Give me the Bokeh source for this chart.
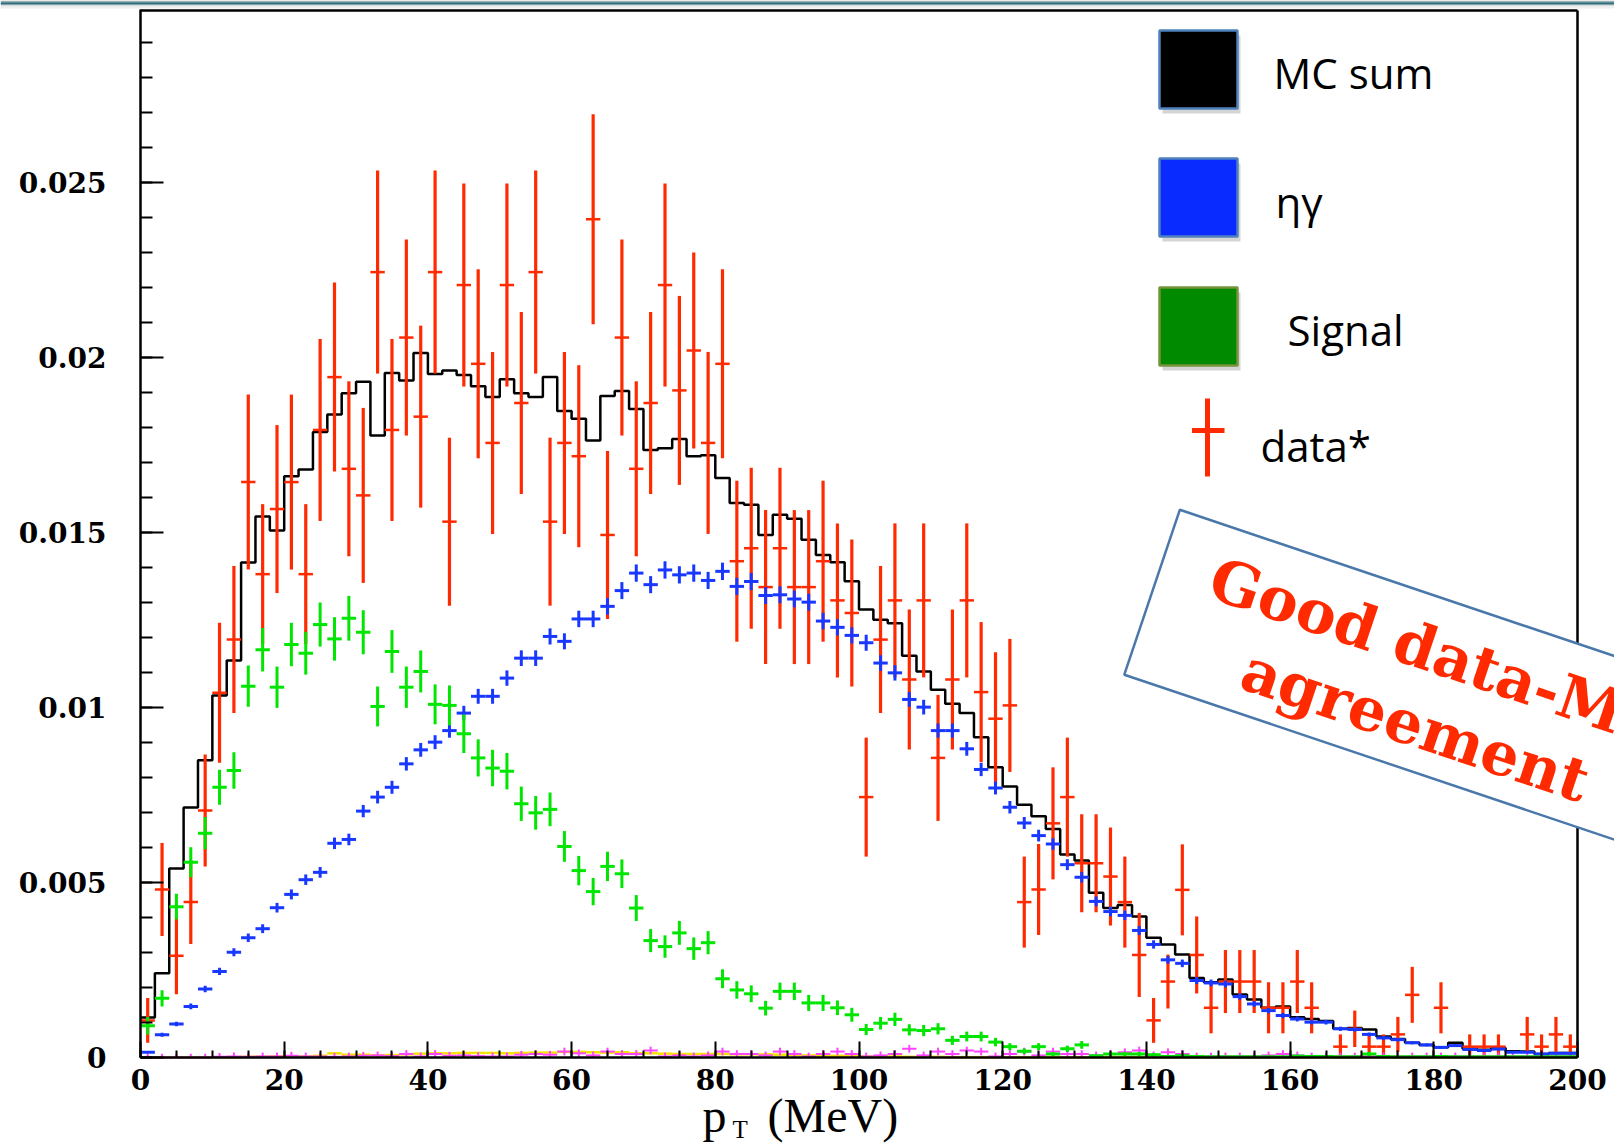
import math
from bokeh.plotting import figure
from bokeh.models import FixedTicker, Range1d
from bokeh.core.properties import value
from bokeh.embed import file_html
from bokeh.resources import INLINE

# ---------------- data ----------------
n_bins = 100
bin_width = 2.0
bin_centers = [bin_width * (i + 0.5) for i in range(n_bins)]
bin_low_edges = [bin_width * i for i in range(n_bins)]

mc_sum = [
    0.00114, 0.00241, 0.0054, 0.00714, 0.00849, 0.01034, 0.01134, 0.01414, 0.01546, 0.01506,
    0.01661, 0.0168, 0.01787, 0.01837, 0.01898, 0.01931, 0.01777, 0.01956, 0.01934, 0.02013,
    0.01953, 0.01963, 0.0195, 0.01918, 0.01887, 0.01938, 0.01898, 0.01887, 0.01944, 0.01847,
    0.01825, 0.01763, 0.0189, 0.01904, 0.01853, 0.01736, 0.01741, 0.01767, 0.01718, 0.01721,
    0.01656, 0.01584, 0.01579, 0.01493, 0.01551, 0.01539, 0.01479, 0.01436, 0.01415, 0.01361,
    0.0128, 0.01251, 0.01241, 0.01148, 0.01103, 0.01051, 0.01011, 0.00984, 0.00915, 0.00829,
    0.00774, 0.00722, 0.00689, 0.00653, 0.0058, 0.00563, 0.00471, 0.00427, 0.00436, 0.00403,
    0.00342, 0.00323, 0.00294, 0.00227, 0.00215, 0.00223, 0.0018, 0.00166, 0.00142, 0.00146,
    0.00115, 0.0011, 0.00104, 0.00082, 0.00084, 0.0008, 0.0006, 0.00053, 0.00042, 0.00036,
    0.00029, 0.00042, 0.00025, 0.00022, 0.00027, 0.00018, 0.00017, 0.0001, 0.00013, 0.00013]

eta_gamma = [
    0.00015, 0.00065, 0.00096, 0.00146, 0.00196, 0.00246, 0.00301, 0.00342, 0.00368, 0.00428,
    0.00466, 0.00508, 0.00529, 0.00612, 0.00623, 0.00704, 0.00744, 0.00772, 0.00839, 0.00879,
    0.00901, 0.00934, 0.00984, 0.01032, 0.01032, 0.01084, 0.01141, 0.01141, 0.01203, 0.01189,
    0.01253, 0.01253, 0.01289, 0.01334, 0.01384, 0.01351, 0.01393, 0.01379, 0.01384, 0.01363,
    0.01389, 0.01346, 0.0136, 0.0132, 0.01322, 0.0131, 0.01301, 0.01247, 0.01229, 0.01206,
    0.01185, 0.01127, 0.01099, 0.01023, 0.01001, 0.00934, 0.00934, 0.00882, 0.00823, 0.0077,
    0.00715, 0.0067, 0.00634, 0.0061, 0.00551, 0.00515, 0.00446, 0.00417, 0.00406, 0.00363,
    0.00323, 0.00279, 0.00269, 0.0022, 0.00213, 0.0021, 0.00174, 0.00153, 0.00134, 0.0012,
    0.0011, 0.00101, 0.00101, 0.00082, 0.0008, 0.00066, 0.00056, 0.00051, 0.00042, 0.00036,
    0.00029, 0.00034, 0.00023, 0.0002, 0.00024, 0.00015, 0.00015, 0.0001, 0.00012, 0.00012]

eta_gamma_err_e4 = [
    0.26, 0.54, 0.65, 0.8, 0.93, 1.04, 1.15, 1.23, 1.27, 1.37,
    1.43, 1.5, 1.53, 1.64, 1.66, 1.76, 1.81, 1.85, 1.92, 1.97,
    1.99, 2.03, 2.08, 2.13, 2.13, 2.19, 2.24, 2.24, 2.3, 2.29,
    2.35, 2.35, 2.38, 2.43, 2.47, 2.44, 2.48, 2.47, 2.47, 2.45,
    2.48, 2.44, 2.45, 2.41, 2.41, 2.4, 2.4, 2.35, 2.33, 2.31,
    2.29, 2.23, 2.2, 2.12, 2.1, 2.03, 2.03, 1.97, 1.9, 1.84,
    1.78, 1.72, 1.67, 1.64, 1.56, 1.51, 1.4, 1.36, 1.34, 1.27,
    1.19, 1.11, 1.09, 0.98, 0.97, 0.96, 0.88, 0.82, 0.77, 0.73,
    0.7, 0.67, 0.67, 0.6, 0.59, 0.54, 0.5, 0.47, 0.43, 0.4,
    0.36, 0.39, 0.32, 0.3, 0.33, 0.26, 0.26, 0.21, 0.23, 0.23]

signal = [
    0.00091, 0.00169, 0.00431, 0.00558, 0.00641, 0.00772, 0.0082, 0.01061, 0.01165, 0.01058,
    0.0118, 0.01155, 0.01237, 0.01196, 0.01255, 0.01215, 0.01003, 0.0116, 0.01058, 0.01103,
    0.01009, 0.01006, 0.00925, 0.00856, 0.00827, 0.00818, 0.00725, 0.00699, 0.00709, 0.00603,
    0.00534, 0.00474, 0.00546, 0.00525, 0.00427, 0.00334, 0.00317, 0.00356, 0.00311, 0.00328,
    0.00225, 0.00193, 0.00182, 0.00141, 0.00189, 0.00189, 0.00156, 0.00156, 0.00142, 0.00122,
    0.0008, 0.00098, 0.00109, 0.00079, 0.00077, 0.00082, 0.00049, 0.0006, 0.0006, 0.00044,
    0.00031, 0.00018, 0.00031, 0.0001, 0.00025, 0.00036, 0.00005, 0.0001, 0.0001, 0.0001,
    0.00008, 0.00003, 0.00005, 0.00003, 0.00002, 0.00002, 0.00002, 0.00002, 0.00002, 0.00002,
    0.00004, 0.00003, 0.00003, 0.00002, 0.00002, 0.0001, 0.00003, 0.00002, 0.00002, 0.00002,
    0.00003, 0.00002, 0.00002, 0.00002, 0.00002, 0.00002, 0.00002, 0.00002, 0.00002, 0.00002]

signal_err_e4 = [
    2.5, 2.3, 3.7, 4.3, 4.6, 5.0, 5.2, 5.9, 6.2, 5.9,
    6.2, 6.1, 6.3, 6.2, 6.4, 6.3, 5.7, 6.1, 5.9, 6.0,
    5.7, 5.7, 5.5, 5.3, 5.2, 5.2, 4.9, 4.8, 4.8, 4.4,
    4.2, 3.9, 4.2, 4.1, 3.7, 3.3, 3.2, 3.4, 3.2, 3.3,
    2.7, 2.5, 2.4, 2.1, 2.5, 2.5, 2.3, 2.3, 2.1, 2.0,
    1.6, 1.8, 1.9, 1.6, 1.6, 1.6, 1.3, 1.4, 1.4, 1.2,
    1.0, 0.8, 1.0, 0.6, 0.9, 1.1, 0.4, 0.6, 0.6, 0.6,
    0.5, 0.3, 0.4, 0.3, 0.3, 0.3, 0.3, 0.3, 0.3, 0.3,
    0.4, 0.3, 0.3, 0.3, 0.3, 0.6, 0.3, 0.3, 0.3, 0.3,
    0.3, 0.3, 0.3, 0.3, 0.3, 0.3, 0.3, 0.3, 0.3, 0.3]

data = [
    0.00106, 0.0048, 0.00291, 0.00444, 0.00706, 0.01042, 0.01194, 0.01644, 0.01381, 0.01567,
    0.01644, 0.01381, 0.01793, 0.01944, 0.01682, 0.01606, 0.02244, 0.01793, 0.02057, 0.01831,
    0.02244, 0.01531, 0.02207, 0.01982, 0.01756, 0.02207, 0.0187, 0.02244, 0.01531, 0.01756,
    0.01718, 0.02395, 0.01493, 0.02057, 0.01682, 0.0187, 0.02207, 0.01906, 0.0202, 0.01756,
    0.01982, 0.01418, 0.01455, 0.01344, 0.01455, 0.01344, 0.01344, 0.01418, 0.01306, 0.0127,
    0.00744, 0.01194, 0.01306, 0.0108, 0.01306, 0.00856, 0.0108, 0.01306, 0.01044, 0.00968,
    0.01006, 0.00444, 0.0048, 0.00669, 0.00744, 0.00555, 0.00555, 0.00517, 0.00444, 0.00293,
    0.00106, 0.00217, 0.00479, 0.00293, 0.00142, 0.00217, 0.00217, 0.00217, 0.00142, 0.00142,
    0.00217, 0.00142, None, 0.00031, 0.00082, 0.00031, 0.00031, 0.00066, 0.00179, None,
    0.00142, None, 0.00031, 0.00031, 0.00031, None, 0.00066, 0.00031, 0.00066, 0.00031]

data_err = [
    0.00064, 0.00133, 0.0011, 0.0012, 0.0016, 0.002, 0.0021, 0.0025, 0.002, 0.0024,
    0.0025, 0.002, 0.0026, 0.0027, 0.0025, 0.0025, 0.0029, 0.0026, 0.0028, 0.0026,
    0.0029, 0.0024, 0.0029, 0.0027, 0.0026, 0.0029, 0.0026, 0.0029, 0.0024, 0.0026,
    0.0026, 0.003, 0.0024, 0.0028, 0.0025, 0.0026, 0.0029, 0.0027, 0.0028, 0.0026,
    0.0027, 0.0023, 0.0023, 0.0022, 0.0023, 0.0022, 0.0022, 0.0023, 0.0022, 0.0021,
    0.0017, 0.0021, 0.0022, 0.002, 0.0022, 0.0018, 0.002, 0.0022, 0.002, 0.0019,
    0.0019, 0.0013, 0.0013, 0.0016, 0.0017, 0.0014, 0.0014, 0.0014, 0.0013, 0.0012,
    0.00064, 0.00077, 0.0013, 0.0011, 0.00073, 0.0009, 0.0009, 0.0009, 0.00073, 0.00073,
    0.0009, 0.00073, None, 0.00035, 0.00052, 0.00035, 0.00035, 0.0005, 0.0008, None,
    0.00073, None, 0.00035, 0.00035, 0.00035, None, 0.0005, 0.00035, 0.0005, 0.00035]

bkg_magenta = [
    0, 0, 0, 0, 0, 0.00002, 0.00003, 0.00002, 0.00003, 0.00003,
    0.00005, 0.00003, 0.00003, 0.00002, 0.00003, 0.00005, 0.00006, 0.00004, 0.0001, 0.00003,
    0.0001, 0.00005, 0.00006, 0.00004, 0.00003, 0.00003, 0.00008, 0.0001, 0.00008, 0.00017,
    0.00012, 0.00006, 0.00017, 0.0001, 0.0001, 0.0002, 0.00003, 0.00006, 0.00003, 0.00006,
    0.00017, 0.0001, 0.0001, 0.00006, 0.00017, 0.0001, 0.00003, 0.0001, 0.00017, 0.0001,
    0.00003, 0.00006, 0.0001, 0.00025, 0.00006, 0.00017, 0.0001, 0.0002, 0.00017, 0.00003,
    0.0001, 0.00017, 0.00006, 0.00017, 0.0001, 0.0001, 0.00006, 0.0001, 0.00015, 0.0002,
    0.00006, 0.00015, 0.0001, 0.00003, 0.00003, 0.00003, 0.00003, 0.00003, 0.00006, 0.0001,
    0.00006, 0.00003, 0.00003, 0.00003, 0.00003, 0.00003, 0.00003, 0.00003, 0.00003, 0.00003,
    0.00003, 0.00003, 0.00003, 0.00003, 0.00003, 0.00003, 0.00003, 0.00003, 0.00003, 0.00003]

bkg_yellow = [
    0, 0, 0, 0, 0, 0.00001, 0.00001, 0.00002, 0.00002, 0.00003,
    0.00003, 0.00003, 0.00005, 0.00012, 0.00008, 0.00008, 0.00006, 0.00007, 0.00009, 0.00011,
    0.00012, 0.00012, 0.00013, 0.00013, 0.00013, 0.00012, 0.00013, 0.00014, 0.00014, 0.00016,
    0.00016, 0.00015, 0.00014, 0.00015, 0.00012, 0.00012, 0.00011, 0.0001, 0.0001, 0.0001,
    0.0001, 0.00009, 0.00009, 0.00009, 0.00008, 0.00007, 0.00006, 0.00005, 0.00005, 0.00004,
    0.00003, 0.00003, 0.00003, 0.00002, 0.00002, 0.00002, 0.00001, 0.00001, 0.00001, 0.00001,
    0.00001, 0.00001, 0.00001, 0.00001, 0.00001, 0.00001, 0.00001, 0.00001, 0.00001, 0.00001,
    0.00001, 0.00001, 0.00001, 0.00001, 0.00001, 0.00001, 0.00001, 0.00001, 0.00001, 0.00001,
    0.00001, 0.00001, 0.00001, 0.00001, 0.00001, 0.00001, 0.00001, 0.00001, 0.00001, 0.00001,
    0.00001, 0.00001, 0.00001, 0.00001, 0.00001, 0.00001, 0.00001, 0.00001, 0.00001, 0.00001]

x_major_ticks = [0, 20, 40, 60, 80, 100, 120, 140, 160, 180, 200]
x_minor_ticks = list(range(0, 201, 5))
y_major_ticks = [0, 0.005, 0.01, 0.015, 0.02, 0.025]
y_tick_labels = ["0", "0.005", "0.01", "0.015", "0.02", "0.025"]
y_minor_ticks = [k / 1000 for k in range(0, 30)]

legend_labels = ["MC sum", "\u03b7\u03b3", "Signal", "data*"]
annotation_lines = ["Good data-MC", "agreement"]
x_title = ["p", "T", "(MeV)"]

# ---------------- geometry helpers (page pixels -> data) ----------------
W, H = 1614, 1144
AXIS_X_PX = 140        # page x of p_T = 0
PX_PER_X = 1437.0 / 200.0
PX_PER_Y = 35000.0
Y0_PX = 1057           # page y of value 0
TEXT_SHIFT = 0.37      # bokeh alphabetic-baseline offset (in em) compensation


def gx(px):
    return (px - AXIS_X_PX) / PX_PER_X


def gy(py):
    return (Y0_PX - py) / PX_PER_Y


def gyb(py, size):
    # data y for a text whose baseline should sit at page y = py
    return gy(py - TEXT_SHIFT * size)


p = figure(width=W, height=H, output_backend="svg", toolbar_location=None,
           title=None, x_range=Range1d(gx(0), gx(W)), y_range=Range1d(gy(H), gy(0)),
           min_border=0)
p.outline_line_color = None
p.grid.visible = False
p.background_fill_color = "white"
p.border_fill_color = "white"

# slide header strip at the very top of the page
p.quad(left=[gx(0)] * 4, right=[gx(W)] * 4,
       top=[gy(0), gy(1.8), gy(4.2), gy(6)], bottom=[gy(1.8), gy(4.2), gy(6), gy(8)],
       fill_color=["#9DAEB2", "#2F6E7D", "#D5DADB", "#EEF0F0"], line_color=None)

# axes (placed at 0 inside the frame so labels and title are not clipped)
p.xaxis.ticker = FixedTicker(ticks=x_major_ticks, minor_ticks=x_minor_ticks)
p.xaxis.bounds = (0, 200)
p.xaxis.fixed_location = 0
p.yaxis.ticker = FixedTicker(ticks=y_major_ticks, minor_ticks=y_minor_ticks)
p.yaxis.bounds = (0, gy(9))
p.yaxis.fixed_location = 0
p.yaxis.major_label_overrides = {t: l for t, l in zip(y_major_ticks, y_tick_labels)}
for ax in (p.xaxis, p.yaxis):
    ax.axis_line_color = "black"
    ax.axis_line_width = 2.5
    ax.major_tick_line_color = "black"
    ax.minor_tick_line_color = "black"
    ax.major_tick_line_width = 2
    ax.minor_tick_line_width = 2
    ax.major_tick_out = 0
    ax.minor_tick_out = 0
    ax.major_label_text_font = "DejaVu Serif"
    ax.major_label_text_font_style = "bold"
    ax.major_label_text_font_size = "28px"
    ax.major_label_text_color = "black"
p.xaxis.major_tick_in = 16
p.xaxis.minor_tick_in = 7
p.xaxis.major_label_standoff = 11
p.yaxis.major_tick_in = 23
p.yaxis.minor_tick_in = 12
p.yaxis.major_label_standoff = 34

# frame top / right edges (x from 0 to 200)
p.segment(x0=[0, 200], y0=[gy(10), 0], x1=[200, 200], y1=[gy(10), gy(10)],
          line_color="black", line_width=2.5)

# MC sum histogram
p.step(x=bin_low_edges + [200.0], y=mc_sum + [mc_sum[-1]], mode="after",
       line_color="black", line_width=2.5)

half = bin_width / 2.0


def crosses(vals, errs, color, vwidth, hwidth):
    xs = [c for c, v in zip(bin_centers, vals) if v is not None]
    ys = [v for v in vals if v is not None]
    es = [e for e, v in zip(errs, vals) if v is not None]
    p.segment(x0=xs, y0=[max(0.0, y - e) for y, e in zip(ys, es)], x1=xs,
              y1=[y + e for y, e in zip(ys, es)], line_color=color, line_width=vwidth)
    p.segment(x0=[x - half for x in xs], y0=ys, x1=[x + half for x in xs], y1=ys,
              line_color=color, line_width=hwidth)


# data (red)
crosses(data, data_err, "#FF2A00", 3.2, 2.5)
# small backgrounds
p.segment(x0=[c - half for c in bin_centers], y0=bkg_yellow,
          x1=[c + half for c in bin_centers], y1=bkg_yellow,
          line_color="#F2E400", line_width=2.5)
mag_cross = 0.00011
crosses(bkg_magenta, [mag_cross] * n_bins, "#FF44FF", 2, 2)
# eta gamma (blue) and signal (green)
crosses(eta_gamma, [e * 1e-4 for e in eta_gamma_err_e4], "#1838FF", 3, 3)
crosses(signal, [e * 1e-4 for e in signal_err_e4], "#00E600", 3, 3)

# ---------------- legend (drawn by hand) ----------------
sq_left, sq_right = 1159, 1237
sq_tops = [30, 158, 287]
sq_colors = ["#000000", "#0A2BFF", "#008A00"]
sq_borders = ["#4F81BD", "#4F81BD", "#77933C"]
for top, fc, bc in zip(sq_tops, sq_colors, sq_borders):
    p.quad(left=[gx(sq_left + 3)], right=[gx(sq_right + 3)], top=[gy(top + 5)],
           bottom=[gy(top + 83)], fill_color="#888888", fill_alpha=0.35, line_color=None)
    p.quad(left=[gx(sq_left)], right=[gx(sq_right)], top=[gy(top)], bottom=[gy(top + 78)],
           fill_color=fc, line_color=bc, line_width=2.5)
p.segment(x0=[gx(1207), gx(1191.5)], y0=[gy(398), gy(430)],
          x1=[gx(1207), gx(1224)], y1=[gy(476), gy(430)],
          line_color="#FF2A00", line_width=5)
leg_size = 42
leg_x = [1273, 1275, 1287, 1260]
leg_y = [88, 217, 345, 461]
p.text(x=[gx(v) for v in leg_x], y=[gyb(v, leg_size) for v in leg_y], text=legend_labels,
       text_font=value("Open Sans"), text_font_size=f"{leg_size}px", text_color="black",
       text_align="left", text_baseline="alphabetic")

# ---------------- rotated annotation box ----------------
th = math.radians(18.6)
dvec = (math.cos(th), math.sin(th))
nvec = (-math.sin(th), math.cos(th))
TL = (1179.3, 509.3)


def rot(u, v):
    return (TL[0] + u * dvec[0] + v * nvec[0], TL[1] + u * dvec[1] + v * nvec[1])


corners = [rot(0, 0), rot(0, 174), rot(760, 174), rot(760, 0)]
p.patch(x=[gx(c[0]) for c in corners], y=[gy(c[1]) for c in corners],
        fill_color="white", line_color="#4A78AA", line_width=2.5)
anchors = [rot(292, 53), rot(292, 129)]
p.text(x=[gx(a[0]) for a in anchors], y=[gy(a[1]) for a in anchors],
       text=annotation_lines, angle=-th, text_font=value("DejaVu Serif"),
       text_font_style="bold", text_font_size="60px", text_color="#FF2A00",
       text_align="center", text_baseline="alphabetic")

# ---------------- x-axis title ----------------
p.text(x=[gx(702), gx(767)], y=[gyb(1133, 48), gyb(1133, 48)], text=[x_title[0], x_title[2]],
       text_font=value("Liberation Serif"), text_font_size="48px", text_color="black",
       text_align="left", text_baseline="alphabetic")
p.text(x=[gx(732)], y=[gyb(1138, 25)], text=[x_title[1]],
       text_font=value("Liberation Serif"), text_font_size="25px", text_color="black",
       text_align="left", text_baseline="alphabetic")

open("out.html", "w").write(file_html(p, INLINE))
